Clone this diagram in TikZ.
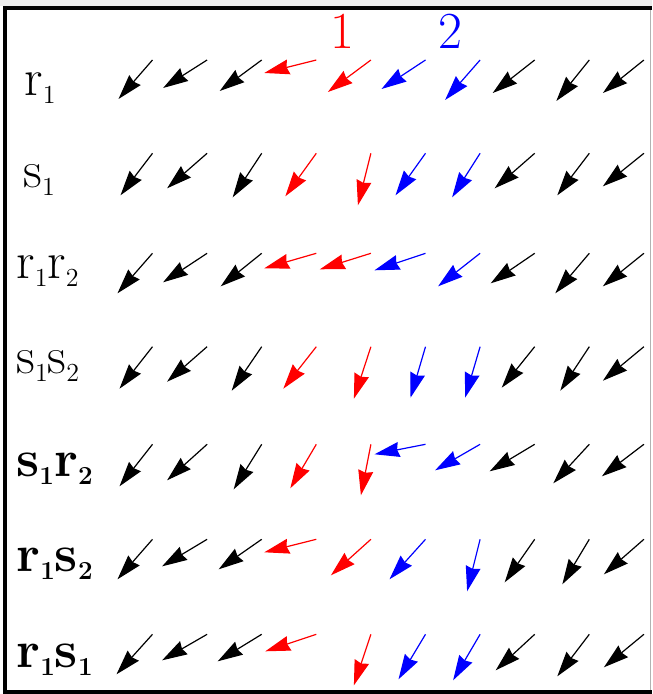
\documentclass[tikz,border=0pt]{standalone}
\usepackage{fontspec}
\usepackage{tikz}
\usetikzlibrary{arrows.meta,calc}
\newcommand{\lowidx}[1]{\raisebox{-4.2pt}{\fontsize{13}{15}\selectfont #1}}

\begin{document}
\begin{tikzpicture}[x=0.5pt, y=-0.5pt,
    vec/.style={-{Stealth[length=12.5pt,width=7.5pt,inset=1pt]}, line width=0.6pt},
    rowlbl/.style={anchor=west, inner sep=0pt, font=\fontsize{26}{30}\selectfont},
    collbl/.style={inner sep=0pt, font=\fontsize{26}{30}\selectfont}
]
\useasboundingbox (0,0) rectangle (652,694);

% frame
\fill[gray!15] (0,0) rectangle (652,6);
\draw[gray!60, line width=0.5pt] (650.5,8) -- (650.5,691.5);
\draw[line width=2pt] (652,8) -- (5,8) -- (5,691.5) -- (652,691.5);

% column numbers
\node[collbl, red] (one) at (342,31) {1};
\node[collbl, blue] (two) at (450,31) {2};

% row labels
\node[rowlbl] (r1) at (24,88) {r\lowidx{1}};
\node[rowlbl] (s1) at (23,180) {s\lowidx{1}};
\node[rowlbl] (r1r2) at (16,271) {r\lowidx{1}r\lowidx{2}};
\node[rowlbl] (s1s2) at (16,366) {s\lowidx{1}s\lowidx{2}};
\node[rowlbl, font=\fontsize{26}{30}\selectfont\bfseries] (s1r2) at (16,469) {s\lowidx{1}r\lowidx{2}};
\node[rowlbl, font=\fontsize{26}{30}\selectfont\bfseries] (r1s2) at (16,564) {r\lowidx{1}s\lowidx{2}};
\node[rowlbl, font=\fontsize{26}{30}\selectfont\bfseries] (r1s1) at (16,660) {r\lowidx{1}s\lowidx{1}};

% row 1
\foreach \dx/\dy/\col [count=\c] in {-34/39/black,-44/28/black,-42/31/black,-52/13/red,-43/32/red,
    -44/29/blue,-35/40/blue,-42/33/black,-33/41/black,-41/33/black} {
  \coordinate (t1-\c) at ({97.9+54.6*\c},60);
  \coordinate (h1-\c) at ($(t1-\c)+(\dx,\dy)$);
  \draw[vec,\col] (t1-\c) -- (h1-\c);
}
% row 2
\foreach \dx/\dy/\col [count=\c] in {-32/42/black,-40/35/black,-29/44/black,-31/43/red,-13/52/red,
    -30/42/blue,-28/44/blue,-40/35/black,-32/42/black,-41/33/black} {
  \coordinate (t2-\c) at ({97.9+54.6*\c},153.3);
  \coordinate (h2-\c) at ($(t2-\c)+(\dx,\dy)$);
  \draw[vec,\col] (t2-\c) -- (h2-\c);
}
% row 3
\foreach \dx/\dy/\col [count=\c] in {-35/40/black,-44/29/black,-41/33/black,-52/15/red,-51/16/red,
    -51/17/blue,-42/33/blue,-44/30/black,-34/40/black,-41/33/black} {
  \coordinate (t3-\c) at ({97.9+54.6*\c},253.3);
  \coordinate (h3-\c) at ($(t3-\c)+(\dx,\dy)$);
  \draw[vec,\col] (t3-\c) -- (h3-\c);
}
% row 4
\foreach \dx/\dy/\col [count=\c] in {-33/42/black,-40/35/black,-30/44/black,-33/42/red,-17/52/red,
    -15/51/blue,-15/51/blue,-33/41/black,-29/44/black,-41/34/black} {
  \coordinate (t4-\c) at ({97.9+54.6*\c},346.7);
  \coordinate (h4-\c) at ($(t4-\c)+(\dx,\dy)$);
  \draw[vec,\col] (t4-\c) -- (h4-\c);
}
% row 5
\foreach \dx/\dy/\col [count=\c] in {-33/42/black,-40/36/black,-28/45/black,-26/44/red,-10/51/red,
    -51/10/blue,-45/26/blue,-45/27/black,-36/39/black,-42/32/black} {
  \coordinate (t5-\c) at ({97.9+54.6*\c},444.3);
  \coordinate (h5-\c) at ($(t5-\c)+(\dx,\dy)$);
  \draw[vec,\col] (t5-\c) -- (h5-\c);
}
% row 6
\foreach \dx/\dy/\col [count=\c] in {-35/40/black,-45/27/black,-43/30/black,-52/13/red,-40/36/red,
    -36/40/blue,-13/52/blue,-30/43/black,-27/45/black,-40/35/black} {
  \coordinate (t6-\c) at ({97.9+54.6*\c},539.3);
  \coordinate (h6-\c) at ($(t6-\c)+(\dx,\dy)$);
  \draw[vec,\col] (t6-\c) -- (h6-\c);
}
% row 7
\foreach \dx/\dy/\col [count=\c] in {-36/40/black,-45/26/black,-44/27/black,-51/17/red,-17/51/red,
    -27/45/blue,-27/46/blue,-39/36/black,-32/42/black,-40/33/black} {
  \coordinate (t7-\c) at ({97.9+54.6*\c},634.3);
  \coordinate (h7-\c) at ($(t7-\c)+(\dx,\dy)$);
  \draw[vec,\col] (t7-\c) -- (h7-\c);
}

\end{tikzpicture}
\end{document}
